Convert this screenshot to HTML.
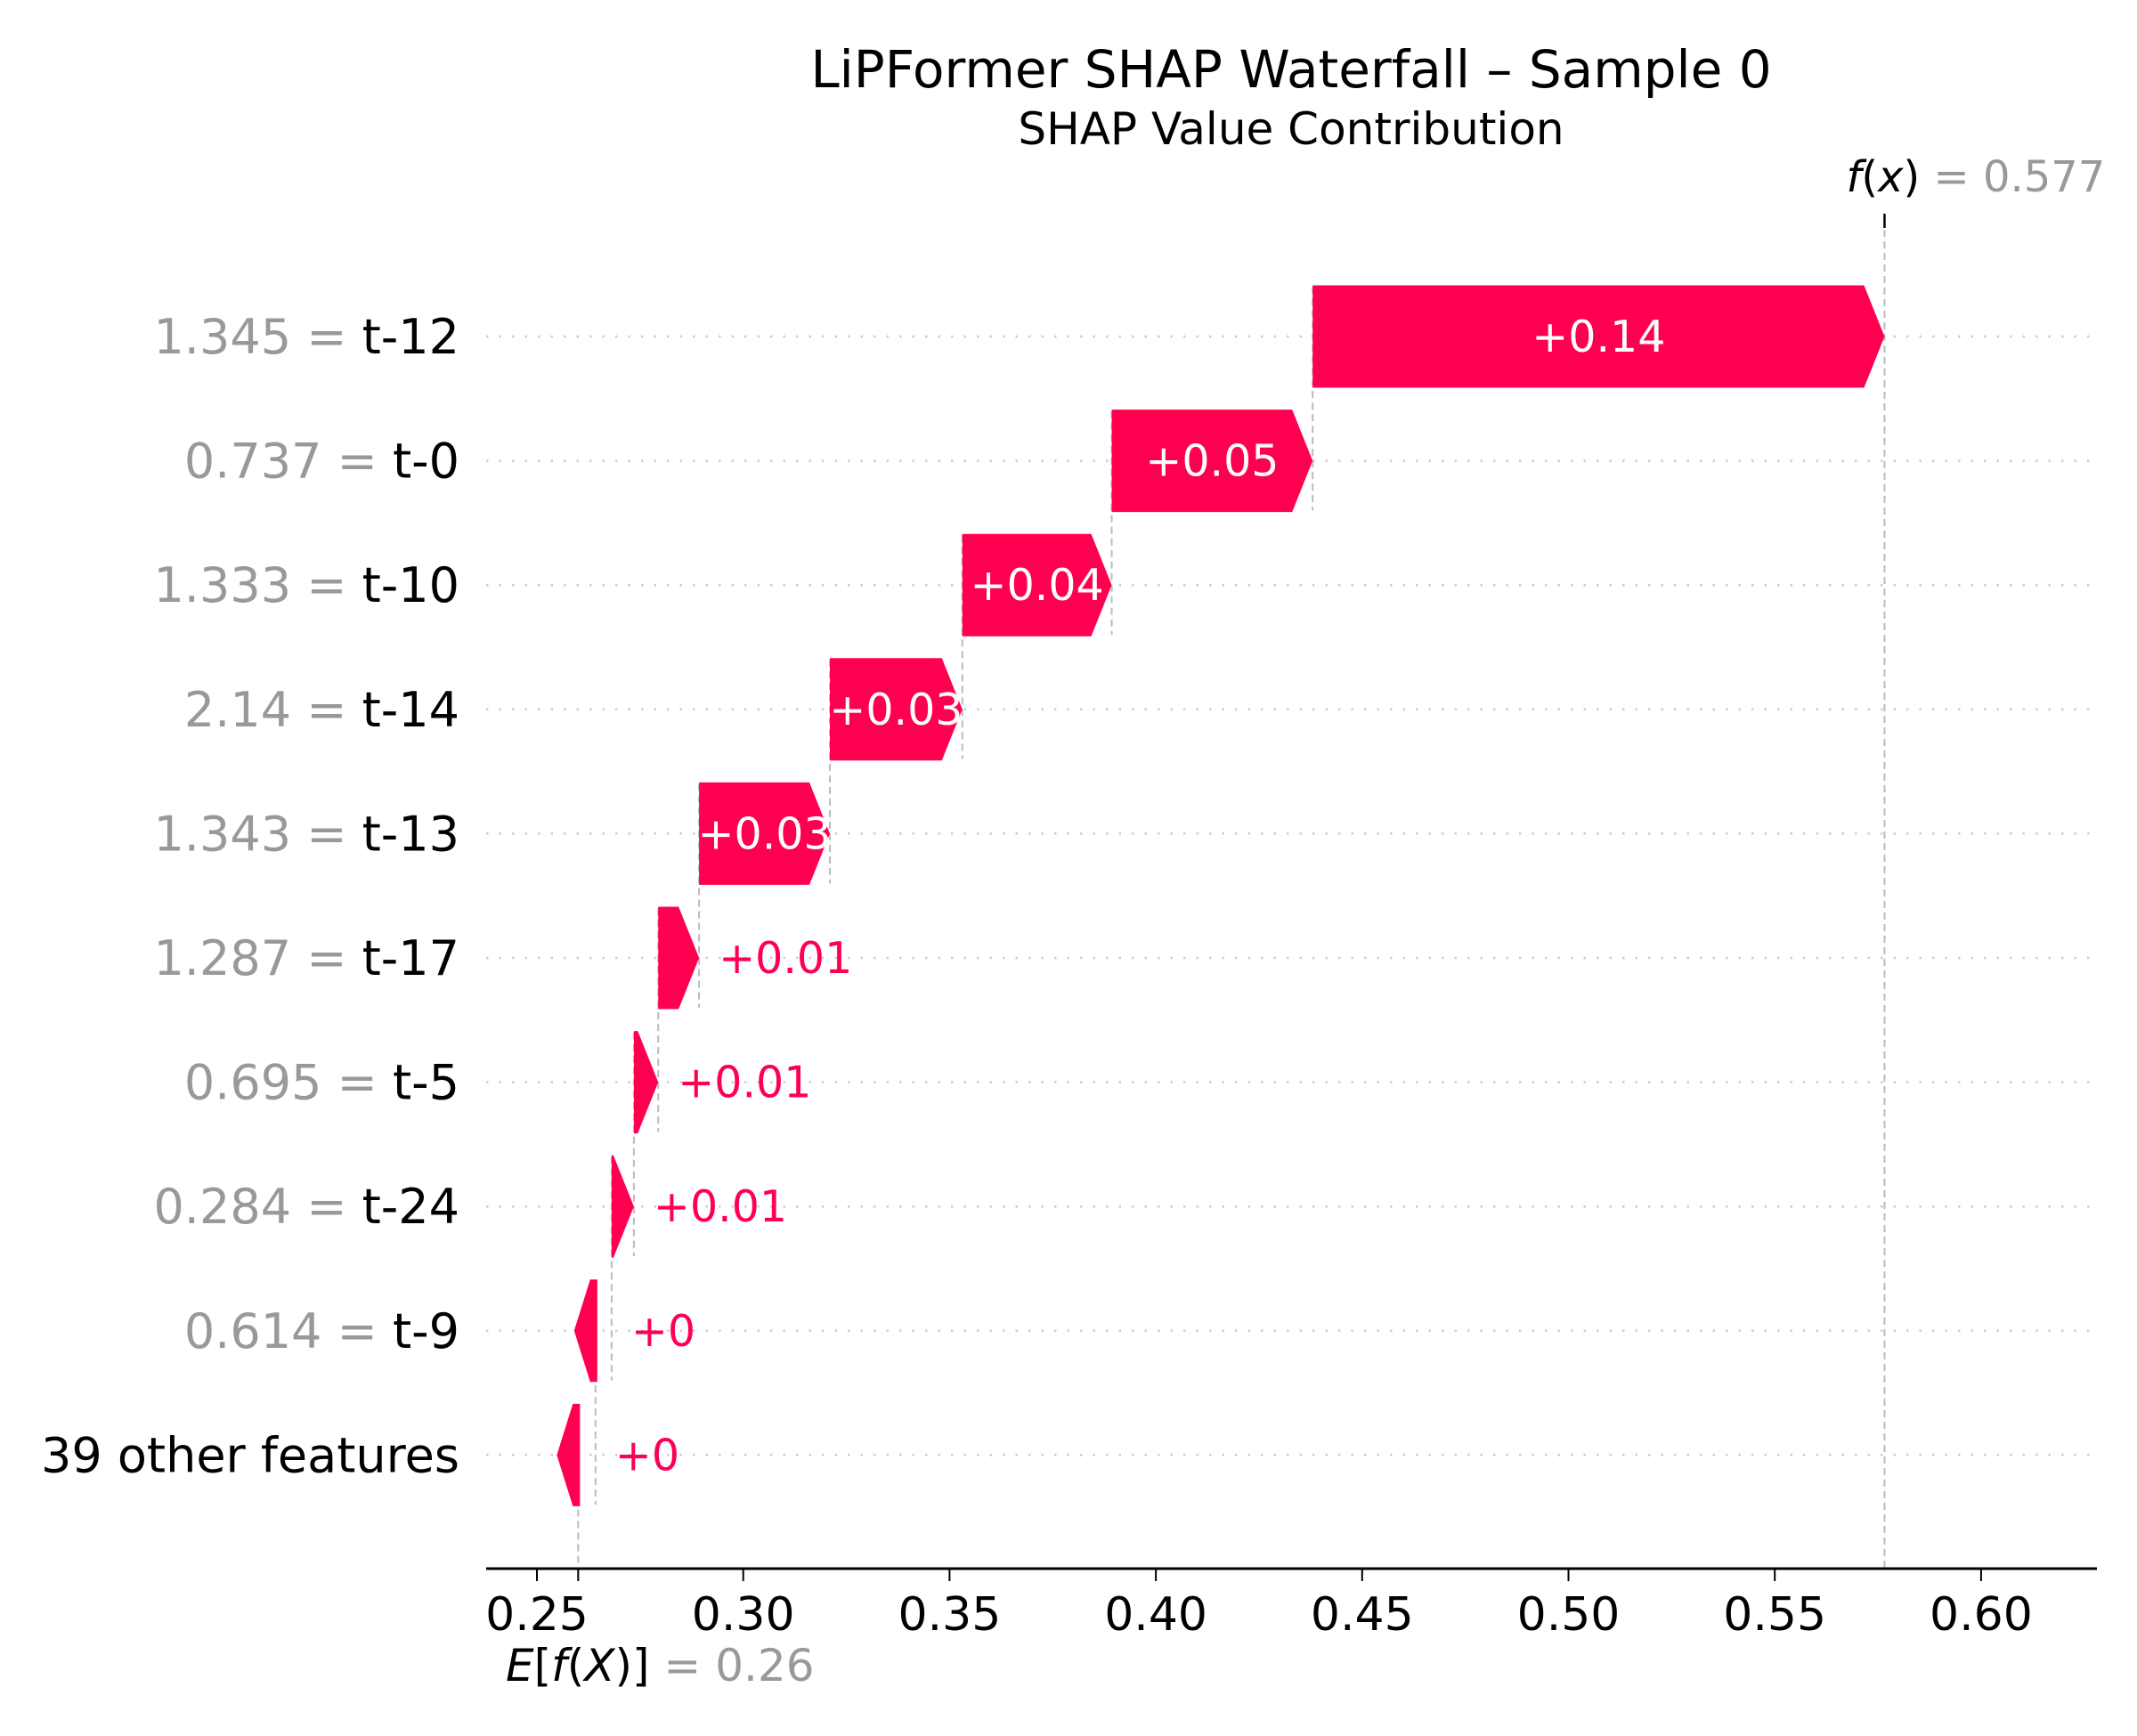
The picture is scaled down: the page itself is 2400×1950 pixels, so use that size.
<!DOCTYPE html>
<html><head><meta charset="utf-8"><style>
html,body{margin:0;padding:0;background:#fff;}
svg{display:block;font-family:"DejaVu Sans","Liberation Sans",sans-serif;}
</style></head><body>
<svg id="chart" width="2400" height="1950" viewBox="0 0 2400 1950" xmlns="http://www.w3.org/2000/svg">
<text x="1450" y="98" font-size="58" text-anchor="middle" fill="#000">LiPFormer SHAP Waterfall – Sample 0</text>
<text x="1450" y="162" font-size="50" text-anchor="middle" fill="#000">SHAP Value Contribution</text>
<g id="grid"></g><g id="lines"></g><g id="bars"></g><g id="labels"></g><g id="axis"></g>
</svg>
<script>
const features = ["t-12","t-0","t-10","t-14","t-13","t-17","t-5","t-24","t-9","39 other features"];
const featureValues = ["1.345","0.737","1.333","2.14","1.343","1.287","0.695","0.284","0.614",""];
const shapValues = [0.1386,0.0487,0.0362,0.0321,0.0317,0.0099,0.0059,0.0054,0.0039,0.0042];
const valueLabels = ["+0.14","+0.05","+0.04","+0.03","+0.03","+0.01","+0.01","+0.01","+0","+0"];
const baseValue = 0.26;
const tickValues = [0.25,0.30,0.35,0.40,0.45,0.50,0.55,0.60];
const tickLabels = ["0.25","0.30","0.35","0.40","0.45","0.50","0.55","0.60"];

const NS="http://www.w3.org/2000/svg";
const X=v=>603+(v-0.25)*4634;
const rowY=i=>378+i*139.6;
const BH=115, HL=23, PINK="#ff0051";
function mk(tag,attrs,parent,txt){const e=document.createElementNS(NS,tag);for(const k in attrs)e.setAttribute(k,attrs[k]);if(txt!==undefined)e.textContent=txt;parent.appendChild(e);return e;}
const g={grid:document.getElementById('grid'),lines:document.getElementById('lines'),bars:document.getElementById('bars'),labels:document.getElementById('labels'),axis:document.getElementById('axis')};
const n=features.length;
const starts=new Array(n);let acc=baseValue;
for(let i=n-1;i>=0;i--){starts[i]=acc;acc+=shapValues[i];}
const fx=acc;
const axisY=1762;
for(let i=0;i<n;i++){
  const cy=rowY(i);
  const gl=mk('line',{x1:546,x2:2350,y1:cy,y2:cy,stroke:'#cccccc','stroke-width':2.5,'stroke-dasharray':'2.5 12'},g.grid);
  
  
  const x0=X(starts[i]),x1=X(starts[i]+shapValues[i]);
  const yTop=cy-0.4*139.6, yBot=(i<n-1)?rowY(i+1)+0.4*139.6:axisY;
  const cl=mk('line',{x1:x0,x2:x0,y1:yTop,y2:yBot,stroke:'#bbbbbb','stroke-width':2,'stroke-dasharray':'8 5'},g.lines);
  
  
  const w=x1-x0,t=cy-BH/2,b=cy+BH/2;
  let pts;
  if(w>HL){pts=[[x0,t],[x1-HL,t],[x1,cy],[x1-HL,b],[x0,b]];}
  else{const e=x0+2,tip=x0-24;pts=[[e,t],[e,b],[e-8,b],[tip,cy],[e-8,t]];}
  const bar=mk('polygon',{points:pts.map(p=>p.join(',')).join(' '),fill:PINK},g.bars);
  
  
  let lab;
  if(w>120){lab=mk('text',{x:(x0+x1)/2,y:cy+17,'font-size':49,'text-anchor':'middle',fill:'#fff'},g.labels,valueLabels[i]);}
  else{lab=mk('text',{x:x1+22,y:cy+17,'font-size':49,'text-anchor':'start',fill:PINK},g.labels,valueLabels[i]);}
  
  
  const yl=mk('text',{x:516,y:cy+19,'font-size':54,'text-anchor':'end'},g.labels);
  
  
  if(featureValues[i]){mk('tspan',{fill:'#999999'},yl,featureValues[i]+' = ');}
  mk('tspan',{fill:'#000'},yl,features[i]);
}
const fxX=X(fx);
const fl=mk('line',{x1:fxX,x2:fxX,y1:258,y2:axisY,stroke:'#bbbbbb','stroke-width':2,'stroke-dasharray':'8 5'},g.lines);


const ft=mk('line',{x1:fxX,x2:fxX,y1:240,y2:256,stroke:'#000','stroke-width':2.5},g.axis);


const fxl=mk('text',{x:fxX-43,y:215,'font-size':48},g.axis);


mk('tspan',{'font-style':'italic',fill:'#000'},fxl,'f');mk('tspan',{fill:'#000'},fxl,'(');
mk('tspan',{'font-style':'italic',fill:'#000'},fxl,'x');mk('tspan',{fill:'#000'},fxl,')');
mk('tspan',{fill:'#999999'},fxl,' = '+fx.toFixed(3));
const al=mk('line',{x1:546,x2:2355,y1:axisY,y2:axisY,stroke:'#000','stroke-width':3},g.axis);


tickValues.forEach((v,k)=>{
  const tk=mk('line',{x1:X(v),x2:X(v),y1:axisY,y2:axisY+14,stroke:'#000','stroke-width':2},g.axis);
  
  
  const tl=mk('text',{x:X(v),y:1831,'font-size':52,'text-anchor':'middle',fill:'#000'},g.axis,tickLabels[k]);
  
  
});
const bt=mk('line',{x1:X(baseValue),x2:X(baseValue),y1:axisY,y2:axisY+14,stroke:'#000','stroke-width':2},g.axis);


const el=mk('text',{x:568,y:1888,'font-size':50},g.axis);


mk('tspan',{'font-style':'italic',fill:'#000'},el,'E');mk('tspan',{fill:'#000'},el,'[');
mk('tspan',{'font-style':'italic',fill:'#000'},el,'f');mk('tspan',{fill:'#000'},el,'(');
mk('tspan',{'font-style':'italic',fill:'#000'},el,'X');mk('tspan',{fill:'#000'},el,')]');
mk('tspan',{fill:'#999999'},el,' = '+baseValue.toFixed(2));
</script>
</body></html>
